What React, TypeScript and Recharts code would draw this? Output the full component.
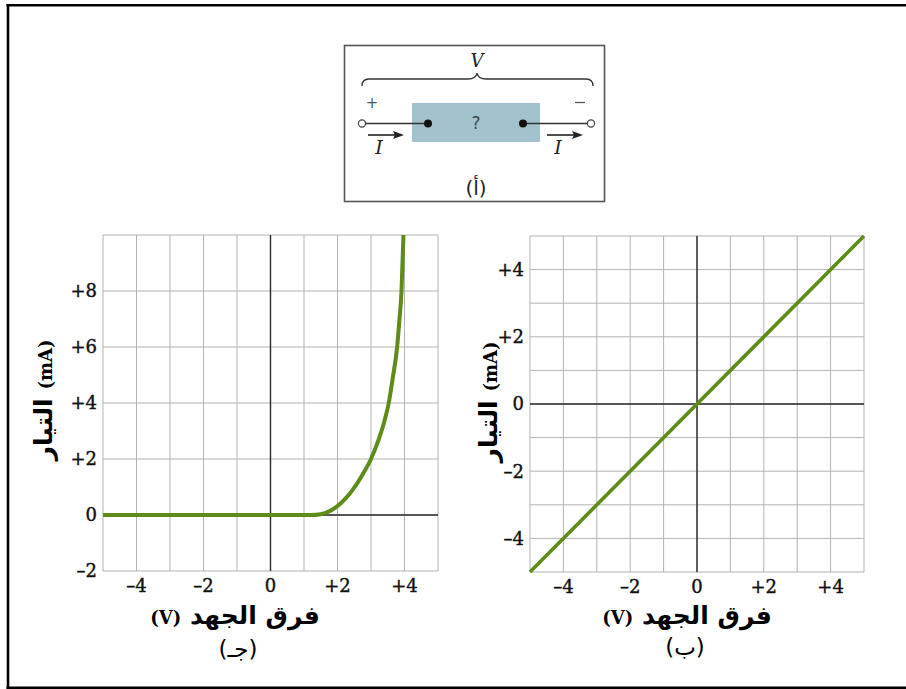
import React from "react";
import { LineChart, Line, XAxis, YAxis, CartesianGrid, ReferenceLine } from "recharts";

// (جـ) diode-like curve: voltage (V) vs current (mA)
const diodeVolts = [-5, 1.2, 1.5, 1.75, 2.0, 2.25, 2.5, 2.75, 3.0, 3.2, 3.4, 3.53, 3.65, 3.78, 3.85, 3.91, 3.94, 3.97];
const diodeAmps = [0, 0, 0.03, 0.13, 0.32, 0.6, 0.98, 1.45, 2.0, 2.6, 3.35, 4.0, 4.9, 6.0, 7.0, 8.0, 9.0, 10.0];

// (ب) ohmic resistor: straight line
const ohmVolts = [-5, 5];
const ohmAmps = [-5, 5];

const xTicks = [-5, -4, -3, -2, -1, 0, 1, 2, 3, 4, 5];
const diodeYTicks = [-2, 0, 2, 4, 6, 8, 10];
const ohmYTicks = [-5, -4, -3, -2, -1, 0, 1, 2, 3, 4, 5];

const GREEN = "#5f8b19";
const GRID = "#b3b3b3";
const AXIS0 = "#2a2a2a";

const signed = (v: number) => (v === 0 ? "0" : v > 0 ? `+${v}` : `–${Math.abs(v)}`);
const evenOnly = (v: number) => (Math.abs(v) % 2 === 1 || Math.abs(v) === 5 ? "" : signed(v));

const tickStyle = { fill: "#111", stroke: "#111", strokeWidth: 0.4, fontSize: 18, fontFamily: "'DejaVu Serif', serif" };

function XLabel({ left, top }: { left: number; top: number }) {
  return (
    <div dir="rtl" style={{ position: "absolute", left, top, width: 200, textAlign: "center", whiteSpace: "nowrap" }}>
      <span style={{ fontFamily: "'DejaVu Sans', sans-serif", fontWeight: 700, fontSize: 25 }}>فرق الجهد </span>
      <span style={{ fontFamily: "'DejaVu Serif', serif", fontWeight: 700, fontSize: 18 }}>(V)</span>
    </div>
  );
}

function YLabel({ cx, cy }: { cx: number; cy: number }) {
  return (
    <div
      dir="ltr"
      style={{
        position: "absolute", left: cx - 100, top: cy - 18, width: 200, height: 36, lineHeight: "36px",
        textAlign: "center", whiteSpace: "nowrap", transform: "rotate(-90deg)",
      }}
    >
      <span style={{ fontFamily: "'DejaVu Sans', sans-serif", fontWeight: 700, fontSize: 25 }}>التيار </span>
      <span style={{ fontFamily: "'DejaVu Serif', serif", fontWeight: 700, fontSize: 18 }}>(mA)</span>
    </div>
  );
}

function Caption({ cx, top, text }: { cx: number; top: number; text: string }) {
  return (
    <div style={{ position: "absolute", left: cx - 50, top, width: 100, textAlign: "center", fontFamily: "'DejaVu Sans', sans-serif", fontSize: 23 }}>
      {text}
    </div>
  );
}

function Schematic() {
  return (
    <svg width={906} height={689} style={{ position: "absolute", left: 0, top: 0 }}>
      {/* outer frame */}
      <line x1={6.5} y1={5.2} x2={906} y2={5.2} stroke="#000" strokeWidth={2.6} />
      <line x1={8} y1={4} x2={8} y2={689} stroke="#000" strokeWidth={2.6} />
      <line x1={6.5} y1={687.8} x2={906} y2={687.8} stroke="#000" strokeWidth={2.6} />
      {/* diagram box */}
      <rect x={344.5} y={45.5} width={260} height={156} fill="#fff" stroke="#555" strokeWidth={1.6} />
      <text x={477} y={67} textAnchor="middle" fontFamily="'DejaVu Serif', serif" fontStyle="italic" fontSize={18} fill="#222">V</text>
      <path
        d="M 362 86 Q 362 79 369 79 L 468 79 Q 476 79 477 73 Q 478 79 486 79 L 586 79 Q 593 79 593 86"
        fill="none" stroke="#333" strokeWidth={1.3}
      />
      <text x={372} y={108} textAnchor="middle" fontFamily="'DejaVu Sans', sans-serif" fontSize={15} fill="#555">+</text>
      <line x1={575} y1={102.5} x2={585} y2={102.5} stroke="#555" strokeWidth={1.3} />
      <rect x={412} y={103} width={128} height={39} fill="#a2c3cd" />
      <text x={476} y={129} textAnchor="middle" fontFamily="'DejaVu Sans', sans-serif" fontSize={17} fill="#3a4a56">?</text>
      <line x1={366} y1={123.5} x2={428} y2={123.5} stroke="#333" strokeWidth={1.4} />
      <line x1={523} y1={123.5} x2={587} y2={123.5} stroke="#333" strokeWidth={1.4} />
      <circle cx={362} cy={123.5} r={3.6} fill="#fff" stroke="#444" strokeWidth={1.2} />
      <circle cx={591} cy={123.5} r={3.6} fill="#fff" stroke="#444" strokeWidth={1.2} />
      <circle cx={428} cy={123.5} r={4} fill="#111" />
      <circle cx={523} cy={123.5} r={4} fill="#111" />
      <line x1={368} y1={135} x2={396} y2={135} stroke="#222" strokeWidth={1.6} />
      <path d="M 404 135 L 393 131 L 395 135 L 393 139 Z" fill="#222" />
      <line x1={547} y1={135} x2={575} y2={135} stroke="#222" strokeWidth={1.6} />
      <path d="M 583 135 L 572 131 L 574 135 L 572 139 Z" fill="#222" />
      <text x={379} y={154} textAnchor="middle" fontFamily="'DejaVu Serif', serif" fontStyle="italic" fontSize={19} fill="#222">I</text>
      <text x={558} y={154} textAnchor="middle" fontFamily="'DejaVu Serif', serif" fontStyle="italic" fontSize={19} fill="#222">I</text>
      <text x={476} y={195} textAnchor="middle" fontFamily="'DejaVu Sans', sans-serif" fontSize={20} fill="#222">(أ)</text>
    </svg>
  );
}

export default function App() {
  const diodeData = diodeVolts.map((v, k) => ({ v, i: diodeAmps[k] }));
  const ohmData = ohmVolts.map((v, k) => ({ v, i: ohmAmps[k] }));

  return (
    <div style={{ position: "absolute", left: 0, top: 0, width: 906, height: 689, background: "#fff" }}>
      <Schematic />

      {/* (جـ) */}
      <div style={{ position: "absolute", left: 20, top: 225 }}>
        <LineChart width={440} height={400} data={diodeData} margin={{ top: 10, right: 22, bottom: 24, left: 23 }}>
          <CartesianGrid stroke={GRID} strokeWidth={1} />
          <XAxis
            dataKey="v" type="number" domain={[-5, 5]} ticks={xTicks} tickFormatter={evenOnly}
            axisLine={false} tickLine={false} tickSize={0} tickMargin={8} height={30} tick={tickStyle} interval={0}
          />
          <YAxis
            type="number" domain={[-2, 10]} ticks={diodeYTicks} tickFormatter={(v: number) => (v === 10 ? "" : signed(v))}
            axisLine={false} tickLine={false} tickSize={0} tickMargin={6} width={60} tick={tickStyle} interval={0}
          />
          <ReferenceLine x={0} stroke={AXIS0} strokeWidth={1.4} />
          <ReferenceLine y={0} stroke={AXIS0} strokeWidth={1.4} />
          <Line dataKey="i" type="monotone" stroke={GREEN} strokeWidth={4} dot={false} isAnimationActive={false} />
        </LineChart>
      </div>

      {/* (ب) */}
      <div style={{ position: "absolute", left: 450, top: 226 }}>
        <LineChart width={440} height={400} data={ohmData} margin={{ top: 10, right: 26, bottom: 24, left: 20 }}>
          <CartesianGrid stroke={GRID} strokeWidth={1} />
          <XAxis
            dataKey="v" type="number" domain={[-5, 5]} ticks={xTicks} tickFormatter={evenOnly}
            axisLine={false} tickLine={false} tickSize={0} tickMargin={8} height={30} tick={tickStyle} interval={0}
          />
          <YAxis
            type="number" domain={[-5, 5]} ticks={ohmYTicks} tickFormatter={evenOnly}
            axisLine={false} tickLine={false} tickSize={0} tickMargin={6} width={60} tick={tickStyle} interval={0}
          />
          <ReferenceLine x={0} stroke={AXIS0} strokeWidth={1.4} />
          <ReferenceLine y={0} stroke={AXIS0} strokeWidth={1.4} />
          <Line dataKey="i" type="linear" stroke={GREEN} strokeWidth={3.6} dot={false} isAnimationActive={false} />
        </LineChart>
      </div>

      <XLabel left={135} top={601} />
      <XLabel left={587} top={601} />
      <YLabel cx={44} cy={400} />
      <YLabel cx={489} cy={402} />
      <Caption cx={238} top={636} text="(جـ)" />
      <Caption cx={685} top={634} text="(ب)" />
    </div>
  );
}
